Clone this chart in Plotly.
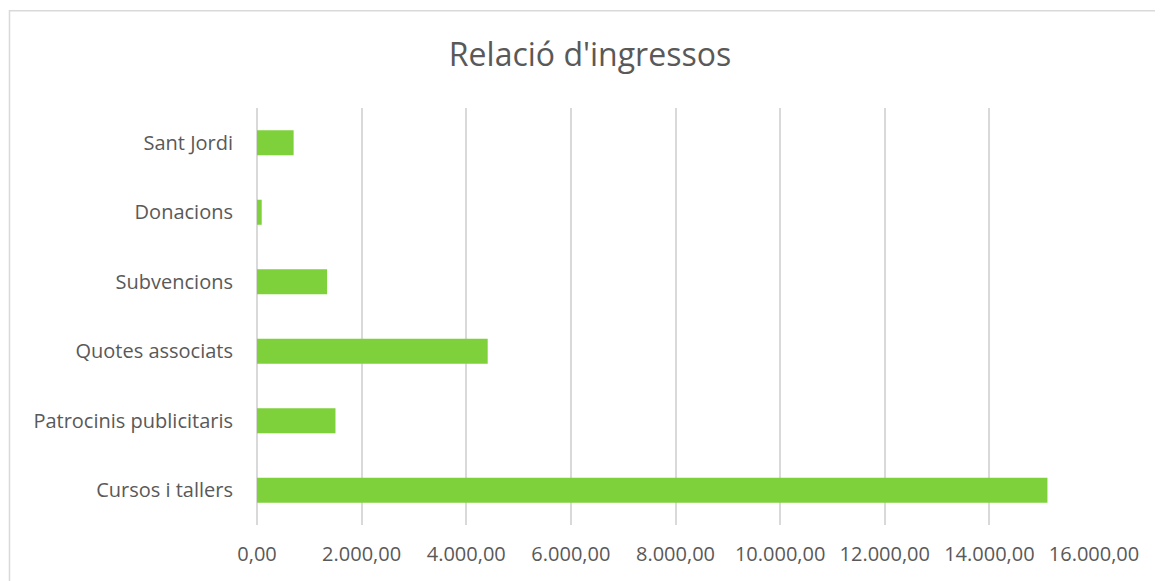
import plotly.graph_objects as go

categories = ["Cursos i tallers", "Patrocinis publicitaris", "Quotes associats",
              "Subvencions", "Donacions", "Sant Jordi"]
values = [15110, 1500, 4410, 1340, 90, 700]
x_ticks = [0, 2000, 4000, 6000, 8000, 10000, 12000, 14000, 16000]

# page has an 8px body margin; figure sized to fill the rest of the window
OFF = 8
W, H = 1163 - OFF, 581 - OFF
L, R, T, B = 256.5 - OFF, 68.7, 108 - OFF, 56
pw, ph = W - L - R, H - T - B

fig = go.Figure(go.Bar(
    x=values, y=categories, orientation="h",
    marker=dict(color="#7ed13b", line=dict(width=0)),
    hoverinfo="x+y",
))

font = "Open Sans, Noto Sans, sans-serif"
fig.update_layout(
    width=W, height=H,
    margin=dict(l=L, r=R, t=T, b=B, pad=0),
    paper_bgcolor="white", plot_bgcolor="white",
    separators=",.",
    bargap=0.64,
    showlegend=False,
    font=dict(family=font, color="#595959", size=20),
    title=dict(text="Relació d'ingressos", x=(590 - OFF) / W, xanchor="center",
               y=1 - (55 - OFF) / H, yanchor="middle",
               font=dict(family=font, size=32, color="#595959")),
    xaxis=dict(range=[0, 16000], tickvals=x_ticks, tickformat=",.2f",
               showgrid=True, gridcolor="#d9d9d9", gridwidth=1.5,
               zeroline=True, zerolinecolor="#d9d9d9", zerolinewidth=1.5,
               showline=False, ticks="",
               ticklabelstandoff=15,
               tickfont=dict(size=20, color="#595959")),
    yaxis=dict(range=[-0.5, 5.5], showgrid=False, zeroline=False,
               showline=False, ticks="", ticklabelstandoff=23,
               tickfont=dict(size=20, color="#595959")),
    shapes=[dict(type="rect", xref="paper", yref="paper",
                 x0=(0.75 - L) / pw, x1=(W + 20 - L) / pw,
                 y0=-(H + 20 - (T + ph)) / ph, y1=(T + ph - 2.75) / ph,
                 line=dict(color="#d9d9d9", width=1.5), fillcolor="rgba(0,0,0,0)",
                 layer="below")],
)

fig.write_html("out.html")
